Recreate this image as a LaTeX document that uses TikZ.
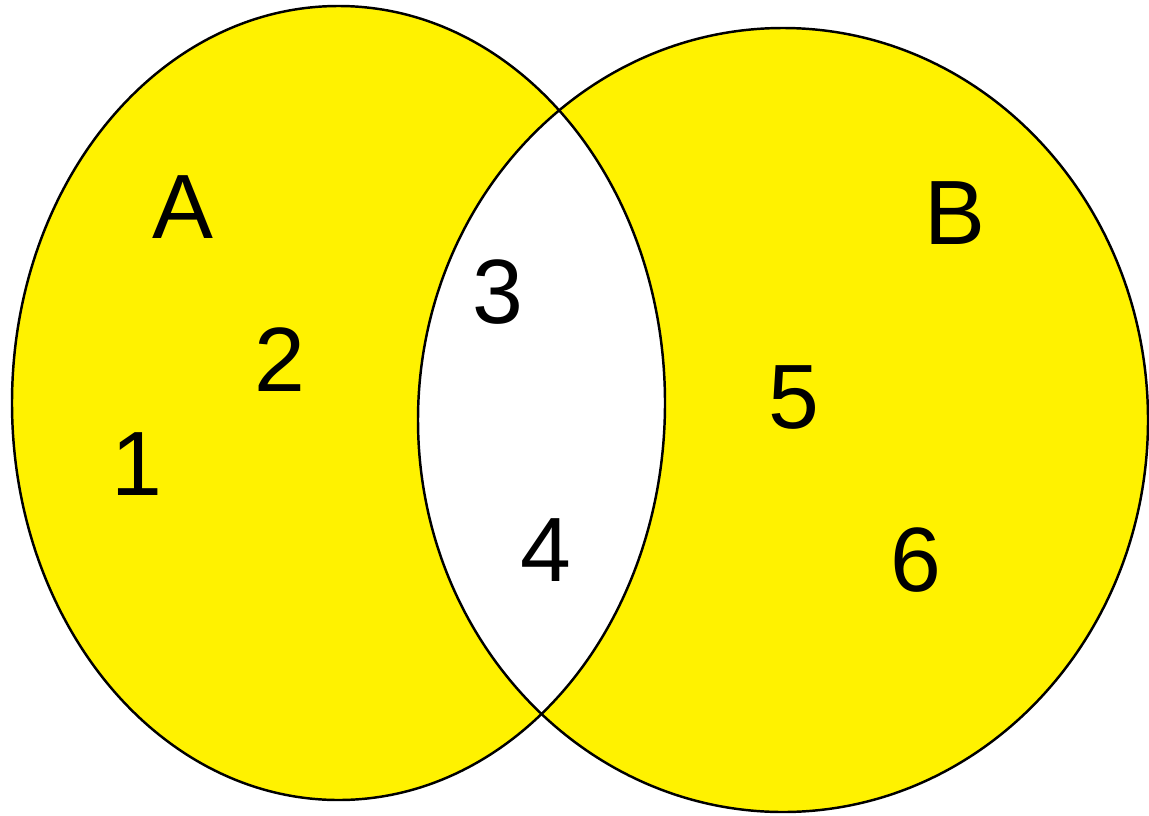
\documentclass[tikz,border=0pt]{standalone}
\usepackage{fontspec}
\setmainfont{Liberation Sans}
\usepackage{tikz}

\begin{document}
\begin{tikzpicture}[
  x=0.02cm,y=-0.02cm,
  every node/.style={font=\fontsize{52}{60}\selectfont,inner sep=0pt},
  setline/.style={draw=black,line width=1.4pt}
]
\useasboundingbox (0,0) rectangle (1149,815);
% the two sets, only the parts outside the overlap are shaded
\fill[yellow,even odd rule] (338.5,403) ellipse [x radius=326.5,y radius=397]
                            (783,420) ellipse [x radius=365,y radius=392];
\draw[setline] (338.5,403) ellipse [x radius=326.5,y radius=397];
\draw[setline] (783,420) ellipse [x radius=365,y radius=392];

\node (labA) at (183,207) {A};
\node (labB) at (955,213) {B};
\node (el1) at (137,464) {1};
\node (el2) at (280,360) {2};
\node (el3) at (498,292) {3};
\node (el4) at (546,550) {4};
\node (el5) at (794,398) {5};
\node (el6) at (916,560) {6};
\end{tikzpicture}
\end{document}
